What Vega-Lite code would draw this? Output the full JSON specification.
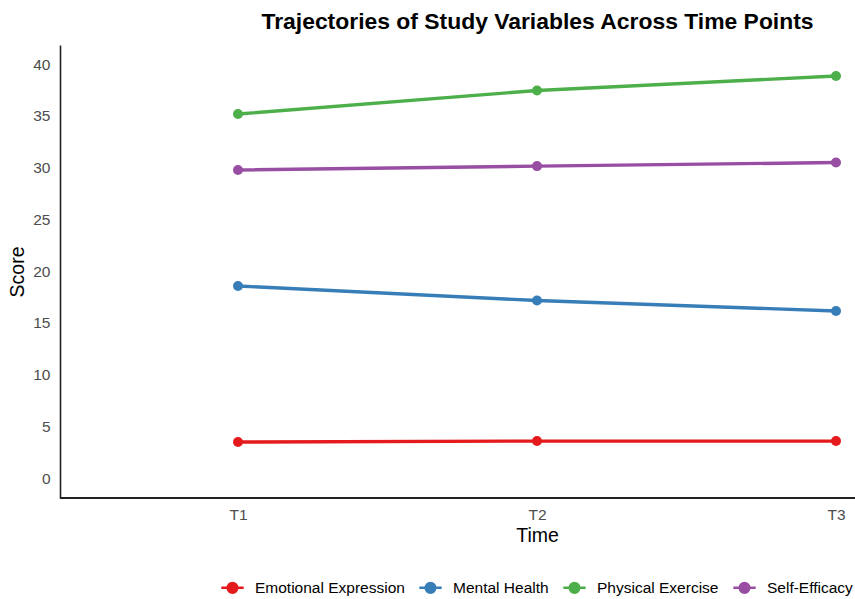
{
  "$schema": "https://vega.github.io/schema/vega-lite/v6.json",
  "autosize": "none",
  "width": 795,
  "height": 453,
  "padding": {"left": 60, "top": 45, "right": 0, "bottom": 101},
  "background": "white",
  "config": {
    "font": "Liberation Sans",
    "view": {"stroke": null},
    "axis": {
      "grid": false,
      "ticks": false,
      "domainColor": "#222222",
      "domainWidth": 1.6,
      "labelColor": "#4D4D4D",
      "labelFontSize": 15.5,
      "labelFont": "Liberation Sans",
      "titleFont": "Liberation Sans",
      "titleFontSize": 19.5,
      "titleFontWeight": "normal",
      "titleColor": "black"
    },
    "legend": {"labelFont": "Liberation Sans", "labelFontSize": 15.5, "labelColor": "black"}
  },
  "title": {
    "text": "Trajectories of Study Variables Across Time Points",
    "fontSize": 22.9,
    "fontWeight": "bold",
    "font": "Liberation Sans",
    "color": "black",
    "anchor": "middle",
    "frame": "group",
    "dx": 80,
    "offset": 11.5
  },
  "data": {
    "values": [
      {"Time": "T1", "Variable": "Emotional Expression", "Score": 3.48},
      {"Time": "T2", "Variable": "Emotional Expression", "Score": 3.57},
      {"Time": "T3", "Variable": "Emotional Expression", "Score": 3.57},
      {"Time": "T1", "Variable": "Mental Health", "Score": 18.55},
      {"Time": "T2", "Variable": "Mental Health", "Score": 17.15},
      {"Time": "T3", "Variable": "Mental Health", "Score": 16.14},
      {"Time": "T1", "Variable": "Physical Exercise", "Score": 35.17},
      {"Time": "T2", "Variable": "Physical Exercise", "Score": 37.44},
      {"Time": "T3", "Variable": "Physical Exercise", "Score": 38.84},
      {"Time": "T1", "Variable": "Self-Efficacy", "Score": 29.76},
      {"Time": "T2", "Variable": "Self-Efficacy", "Score": 30.14},
      {"Time": "T3", "Variable": "Self-Efficacy", "Score": 30.48}
    ]
  },
  "layer": [
    {
      "mark": {"type": "rule", "color": "#222222", "strokeWidth": 1.6},
      "encoding": {"y": {"datum": -1.93, "type": "quantitative"}}
    },
    {
      "mark": {"type": "line", "strokeWidth": 3.4},
      "encoding": {
        "x": {
          "field": "Time",
          "type": "ordinal",
          "scale": {"type": "point", "range": [178, 776], "padding": 0},
          "axis": {"labelAngle": 0, "labelPadding": 9, "titlePadding": 4, "domain": false}
        },
        "y": {
          "field": "Score",
          "type": "quantitative",
          "scale": {"domain": [-1.93, 41.84], "nice": false, "zero": false},
          "axis": {"values": [0, 5, 10, 15, 20, 25, 30, 35, 40], "labelPadding": 10, "titlePadding": 5}
        },
        "color": {
          "field": "Variable",
          "type": "nominal",
          "scale": {
            "domain": ["Emotional Expression", "Mental Health", "Physical Exercise", "Self-Efficacy"],
            "range": ["#E41A1C", "#377EB8", "#4DAF4A", "#984EA3"]
          },
          "legend": {
            "title": null,
            "orient": "none",
            "legendX": 160,
            "legendY": 530,
            "direction": "horizontal",
            "symbolType": "M-1,0L1,0M0.43,0A0.43,0.43,0,1,1,-0.43,0A0.43,0.43,0,1,1,0.43,0Z",
            "symbolSize": 500,
            "symbolStrokeWidth": 2.5,
            "columnPadding": 9,
            "labelOffset": 10,
            "encode": {
              "symbols": {"update": {"stroke": {"scale": "color", "field": "value"}, "fill": {"scale": "color", "field": "value"}, "opacity": {"value": 1}}}
            }
          }
        }
      }
    },
    {
      "mark": {"type": "point", "filled": true, "size": 100, "opacity": 1},
      "encoding": {
        "x": {"field": "Time", "type": "ordinal"},
        "y": {"field": "Score", "type": "quantitative"},
        "color": {"field": "Variable", "type": "nominal"}
      }
    }
  ]
}
